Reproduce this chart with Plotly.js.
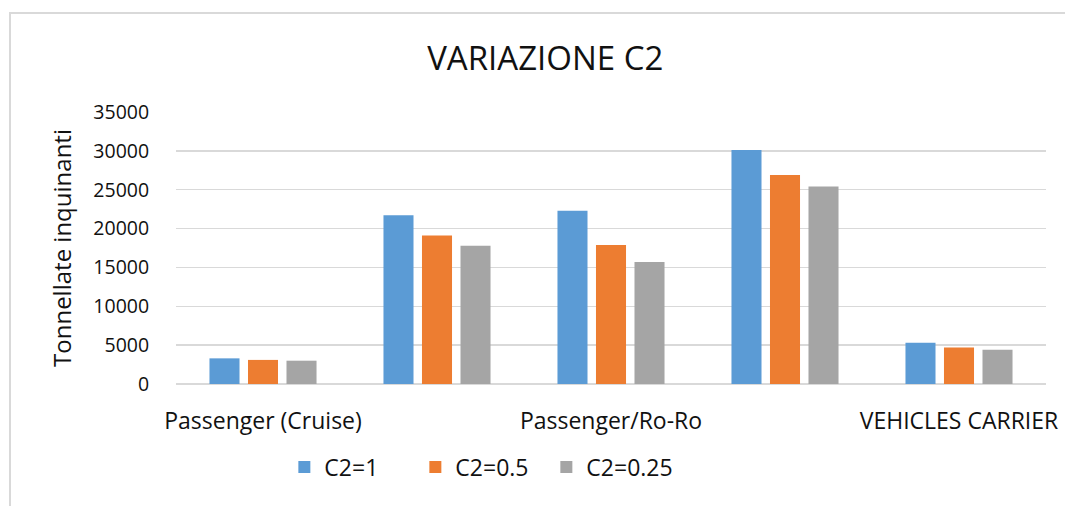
<!DOCTYPE html>
<html>
<head>
<meta charset="utf-8">
<script src="https://cdn.plot.ly/plotly-3.0.1.min.js"></script>
<style>html,body{margin:0;padding:0;background:#fff;}#chart{width:1065px;height:506px;}</style>
</head>
<body>
<div id="chart"></div>
<script>
const categories = ["Passenger (Cruise)", "", "Passenger/Ro-Ro", "", "VEHICLES CARRIER"];
const seriesNames = ["C2=1", "C2=0.5", "C2=0.25"];
const c2_1 = [3300, 21700, 22300, 30100, 5300];
const c2_05 = [3100, 19100, 17900, 26900, 4700];
const c2_025 = [3000, 17800, 15700, 25400, 4400];
const yTicks = [0, 5000, 10000, 15000, 20000, 25000, 30000, 35000];
const colors = ["#5B9BD5", "#ED7D31", "#A5A5A5"];

const xIdx = categories.map((_, i) => i);
const font = "'Open Sans', sans-serif";
const traces = [c2_1, c2_05, c2_025].map((vals, k) => ({
  type: "bar",
  x: xIdx,
  y: vals,
  name: seriesNames[k],
  marker: {color: colors[k], line: {width: 0}},
  hoverinfo: "y+name"
}));

const layout = {
  width: 1065, height: 506,
  margin: {l: 176, r: 19, t: 112, b: 122},
  paper_bgcolor: "#fff", plot_bgcolor: "#fff",
  font: {family: font, color: "#111", size: 19},
  title: {text: "VARIAZIONE C2", font: {family: font, size: 33, color: "#111"},
          x: 0.512, xanchor: "center", y: 0.885, yanchor: "middle", yref: "container"},
  barmode: "group", bargap: 0.336, bargroupgap: 0.22,
  xaxis: {
    range: [-0.5, 4.5], tickmode: "array", tickvals: xIdx, ticktext: categories,
    showgrid: false, zeroline: false, showline: false,
    ticks: "outside", ticklen: 16, tickcolor: "rgba(0,0,0,0)",
    tickfont: {family: font, size: 23, color: "#111"}, tickangle: 0, fixedrange: true
  },
  yaxis: {
    range: [0, 35000], tickmode: "array", tickvals: yTicks, ticktext: yTicks.map(String),
    showgrid: true, gridcolor: "#d9d9d9", gridwidth: 1.5,
    zeroline: true, zerolinecolor: "#d9d9d9", zerolinewidth: 1.5,
    showline: false, ticks: "outside", ticklen: 22, tickcolor: "rgba(0,0,0,0)",
    tickfont: {family: font, size: 19.5, color: "#111"},
    title: {text: "Tonnellate inquinanti", font: {family: font, size: 24, color: "#111"}, standoff: 14},
    fixedrange: true
  },
  showlegend: true,
  legend: {orientation: "h", xref: "container", yref: "container", x: 0.267, xanchor: "left",
           y: 0.077, yanchor: "middle", font: {family: font, size: 23, color: "#111"},
           entrywidth: 86, entrywidthmode: "pixels",
           itemclick: false, itemdoubleclick: false, traceorder: "normal"},
  shapes: [{type: "path", xref: "paper", yref: "paper",
            path: "M -0.1908,-0.5 L -0.1908,1.364 L 1.05,1.364",
            line: {color: "#d9d9d9", width: 2}}]
};

Plotly.newPlot("chart", traces, layout, {displayModeBar: false, staticPlot: true});
</script>
</body>
</html>
